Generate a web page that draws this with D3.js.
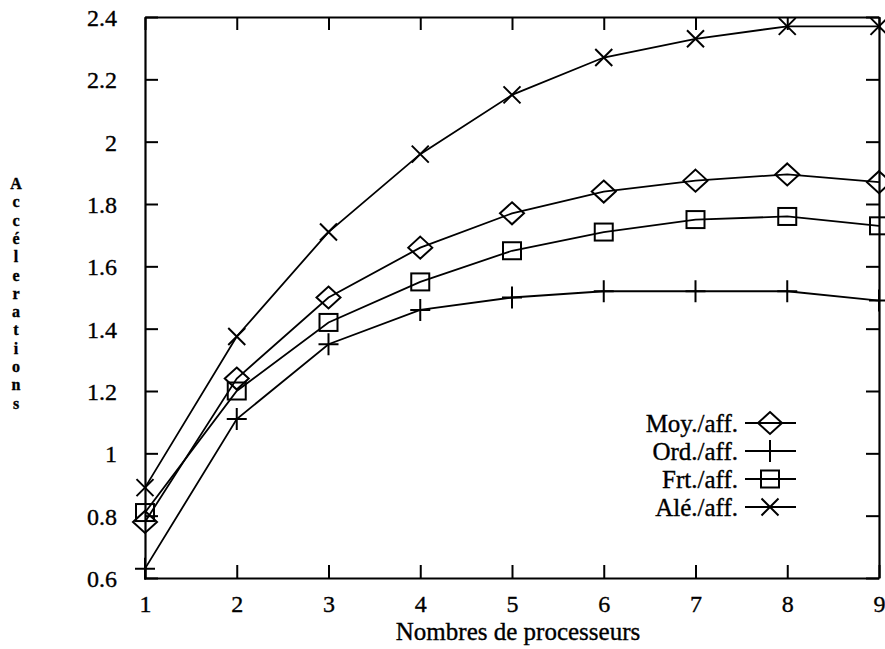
<!DOCTYPE html>
<html>
<head>
<meta charset="utf-8">
<script src="https://cdn.jsdelivr.net/npm/d3@7"></script>
<style>
  html, body { margin: 0; padding: 0; background: #fff; }
  svg text { font-family: "Liberation Serif", "Times New Roman", serif; fill: #000; stroke: #000; stroke-width: 0.35px; }
</style>
</head>
<body>
<svg id="chart" width="885" height="649"></svg>
<script>
// Speed-up measurements per number of processors
const processors = [1, 2, 3, 4, 5, 6, 7, 8, 9];
const moyAff = [0.78, 1.24, 1.50, 1.66, 1.77, 1.84, 1.875, 1.895, 1.87];
const ordAff = [0.63, 1.11, 1.35, 1.46, 1.50, 1.52, 1.52, 1.52, 1.49];
const frtAff = [0.81, 1.20, 1.42, 1.55, 1.65, 1.71, 1.75, 1.76, 1.73];
const aleAff = [0.89, 1.375, 1.71, 1.96, 2.15, 2.27, 2.33, 2.37, 2.37];

const seriesNames = ["Moy./aff.", "Ord./aff.", "Frt./aff.", "Alé./aff."];
const seriesMarkers = ["diamond", "plus", "square", "cross"];
const xTicks = [1, 2, 3, 4, 5, 6, 7, 8, 9];
const yTicks = [0.6, 0.8, 1, 1.2, 1.4, 1.6, 1.8, 2, 2.2, 2.4];
const xTitle = "Nombres de processeurs";
const yTitle = "Accélerations";

const series = [moyAff, ordAff, frtAff, aleAff].map((vals, i) => ({
  name: seriesNames[i],
  marker: seriesMarkers[i],
  points: processors.map((p, j) => ({ x: p, y: vals[j] }))
}));

const svg = d3.select("#chart");
const plotLeft = 145, plotRight = 879, plotTop = 17, plotBottom = 578;

const x = d3.scaleLinear().domain([1, 9]).range([plotLeft, plotRight]);
const y = d3.scaleLinear().domain([0.6, 2.4]).range([plotBottom, plotTop]);

const fmt = d => (Math.round(d * 10) / 10).toString();

// Axes with inward ticks on all four sides
const tickLen = 13;
const axisG = svg.append("g");

const gBottom = axisG.append("g").attr("transform", `translate(0,${plotBottom})`)
  .call(d3.axisBottom(x).tickValues(xTicks).tickSizeInner(-tickLen).tickSizeOuter(0).tickPadding(17).tickFormat(d3.format("d")));
const gTop = axisG.append("g").attr("transform", `translate(0,${plotTop})`)
  .call(d3.axisTop(x).tickValues(xTicks).tickSizeInner(-tickLen).tickSizeOuter(0).tickFormat(""));
const gLeft = axisG.append("g").attr("transform", `translate(${plotLeft},0)`)
  .call(d3.axisLeft(y).tickValues(yTicks).tickSizeInner(-tickLen).tickSizeOuter(0).tickPadding(28).tickFormat(fmt));
const gRight = axisG.append("g").attr("transform", `translate(${plotRight},0)`)
  .call(d3.axisRight(y).tickValues(yTicks).tickSizeInner(-tickLen).tickSizeOuter(0).tickFormat(""));

axisG.selectAll(".domain").attr("stroke", "#000").attr("stroke-width", 2.2);
axisG.selectAll(".tick line").attr("stroke", "#000").attr("stroke-width", 2);
axisG.selectAll(".tick text").attr("font-size", 24).attr("font-family", "Liberation Serif").attr("fill", "#000");
gLeft.selectAll(".tick text").attr("dy", "0.35em");
gBottom.selectAll(".tick text").attr("dy", "0.71em");

// Axis titles
svg.append("text")
  .attr("x", (plotLeft + plotRight) / 2 + 6)
  .attr("y", 640)
  .attr("text-anchor", "middle")
  .attr("font-size", 25)
  .text(xTitle);

// Vertical y title: one letter per line
const yLetters = Array.from(yTitle);
svg.append("g").selectAll("text")
  .data(yLetters)
  .join("text")
  .attr("x", 16)
  .attr("y", (d, i) => 189 + i * 18.3)
  .attr("text-anchor", "middle")
  .attr("font-size", 16)
  .attr("font-weight", "bold")
  .text(d => d);

// Marker shapes (open, as the lines run through them)
function drawMarker(g, type, cx, cy) {
  const s = g.append("g").attr("transform", `translate(${cx},${cy})`)
    .attr("fill", "none").attr("stroke", "#000").attr("stroke-width", 2);
  if (type === "diamond") {
    s.append("path").attr("d", "M0,-11L12,0L0,11L-12,0Z");
  } else if (type === "square") {
    s.append("rect").attr("x", -9).attr("y", -8.5).attr("width", 18).attr("height", 17);
  } else if (type === "plus") {
    s.append("path").attr("d", "M-10,0H10M0,-11V11");
  } else if (type === "cross") {
    s.append("path").attr("d", "M-8.5,-8.5L8.5,8.5M-8.5,8.5L8.5,-8.5");
  }
}

const line = d3.line().x(d => x(d.x)).y(d => y(d.y));

const plotG = svg.append("g");
series.forEach(s => {
  plotG.append("path")
    .datum(s.points)
    .attr("d", line)
    .attr("fill", "none")
    .attr("stroke", "#000")
    .attr("stroke-width", 1.8);
});
series.forEach(s => {
  s.points.forEach(p => drawMarker(plotG, s.marker, x(p.x), y(p.y)));
});

// Legend
const legend = svg.append("g");
const legendTop = 423, legendStep = 28;
series.forEach((s, i) => {
  const ly = legendTop + i * legendStep;
  legend.append("text")
    .attr("x", 738)
    .attr("y", ly)
    .attr("dy", "0.35em")
    .attr("text-anchor", "end")
    .attr("font-size", 25)
    .text(s.name);
  legend.append("line")
    .attr("x1", 745).attr("x2", 796)
    .attr("y1", ly).attr("y2", ly)
    .attr("stroke", "#000").attr("stroke-width", 1.8);
  drawMarker(legend, s.marker, 770, ly);
});
</script>
</body>
</html>
